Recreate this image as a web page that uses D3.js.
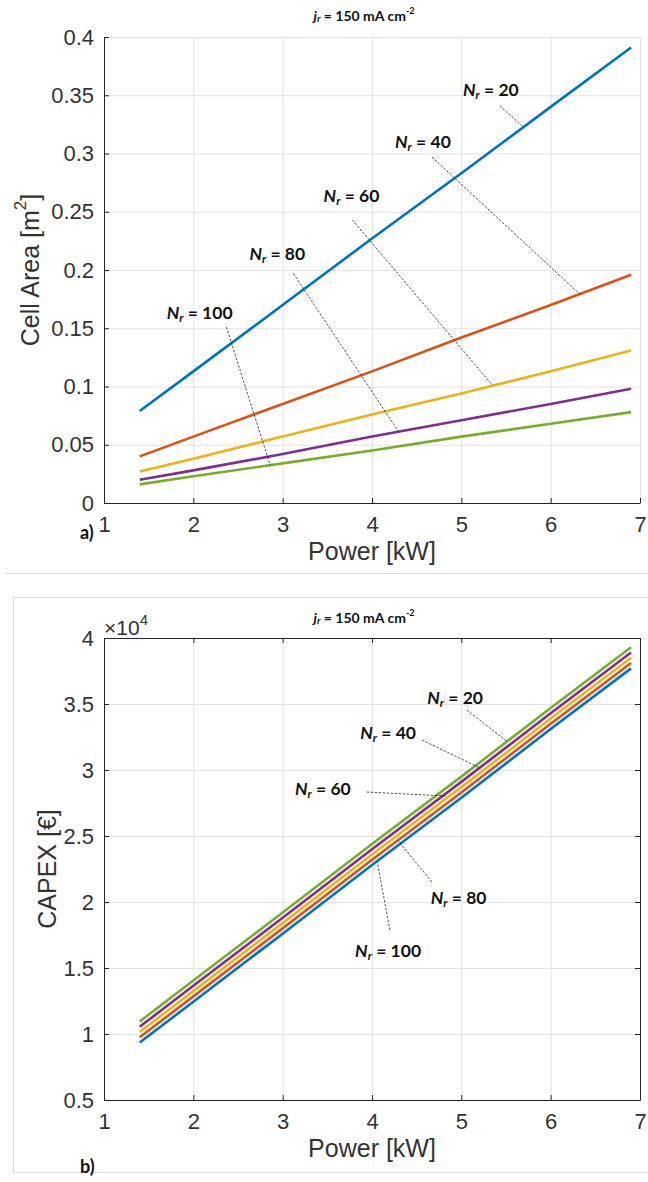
<!DOCTYPE html>
<html>
<head>
<meta charset="utf-8">
<script src="https://cdn.jsdelivr.net/npm/d3@7"></script>
<style>
  html, body { margin: 0; padding: 0; background: #fff; }
  svg { display: block; }
</style>
</head>
<body>
<script>
// ---------------- DATA ----------------
const power = [1.4, 2, 3, 4, 5, 6, 6.9];

// Panel a) Cell area [m^2]
const areaBlue   = [0.079, 0.113, 0.170, 0.227, 0.283, 0.340, 0.391];
const areaOrange = [0.040, 0.057, 0.085, 0.113, 0.142, 0.170, 0.196];
const areaYellow = [0.027, 0.038, 0.057, 0.076, 0.094, 0.113, 0.131];
const areaPurple = [0.020, 0.028, 0.042, 0.057, 0.071, 0.085, 0.098];
const areaGreen  = [0.016, 0.023, 0.034, 0.045, 0.057, 0.068, 0.078];

// Panel b) CAPEX [€] in units of 10^4
const capexBlue   = [0.935, 1.245, 1.76, 2.28, 2.79, 3.31, 3.77];
const capexOrange = [0.975, 1.285, 1.80, 2.32, 2.83, 3.35, 3.81];
const capexYellow = [1.015, 1.325, 1.84, 2.36, 2.87, 3.39, 3.85];
const capexPurple = [1.055, 1.365, 1.88, 2.40, 2.91, 3.43, 3.89];
const capexGreen  = [1.095, 1.405, 1.92, 2.44, 2.95, 3.47, 3.93];

const xTicks = [1, 2, 3, 4, 5, 6, 7];
const areaTicks = [0, 0.05, 0.1, 0.15, 0.2, 0.25, 0.3, 0.35, 0.4];
const areaTickLabels = ["0", "0.05", "0.1", "0.15", "0.2", "0.25", "0.3", "0.35", "0.4"];
const capexTicks = [0.5, 1, 1.5, 2, 2.5, 3, 3.5, 4];
const capexTickLabels = ["0.5", "1", "1.5", "2", "2.5", "3", "3.5", "4"];

const nrLabels = ["20", "40", "60", "80", "100"];
// annotation: [text power, text value, leader start power, value, leader end power, value]
const areaNotes = [
  [5.33, 0.355, 5.43, 0.341, 5.69, 0.323],
  [4.57, 0.311, 4.67, 0.297, 6.33, 0.179],
  [3.77, 0.264, 3.78, 0.243, 5.35, 0.101],
  [2.94, 0.215, 3.12, 0.197, 4.30, 0.061],
  [2.07, 0.164, 2.37, 0.151, 2.86, 0.0325]
];
const capexNotes = [
  [4.93, 3.553, 5.06, 3.455, 5.52, 3.212],
  [4.18, 3.288, 4.56, 3.227, 5.21, 3.015],
  [3.45, 2.864, 3.94, 2.833, 4.84, 2.803],
  [4.97, 2.038, 4.67, 2.152, 4.29, 2.466],
  [4.18, 1.636, 4.20, 1.788, 4.06, 2.300]
];

const colors = { blue: "#0072BD", orange: "#D95319", yellow: "#EDB120", purple: "#7E2F8E", green: "#77AC30" };

// ---------------- DRAW ----------------
const W = 648, H = 1182;
const svg = d3.select("body").append("svg").attr("width", W).attr("height", H);

const AXC = "#262626", GRIDC = "#e3e3e3";
const TICKFONT = '"Liberation Sans", Arial, sans-serif';
const NOTEFONT = 'Lato, "Open Sans", sans-serif';

// panel frames
svg.append("line").attr("x1", 5).attr("x2", W).attr("y1", 573.5).attr("y2", 573.5)
  .attr("stroke", "#dcdcdc").attr("stroke-width", 1);
svg.append("path").attr("d", `M${W},597.5 H13.5 V1172.5 H${W}`)
  .attr("fill", "none").attr("stroke", "#dcdcdc").attr("stroke-width", 1);

function panel(opts) {
  const { top, bottom, yDomain, yTicks, yLabels, series, notes, box, titleY } = opts;
  const left = 104, right = 640;
  const x = d3.scaleLinear().domain([1, 7]).range([left, right]);
  const y = d3.scaleLinear().domain(yDomain).range([bottom, top]);
  const g = svg.append("g");

  // grid
  g.append("g").attr("transform", `translate(0,${bottom})`)
    .call(d3.axisBottom(x).tickValues(xTicks).tickSize(-(bottom - top)).tickFormat(""))
    .call(s => { s.select(".domain").remove(); s.selectAll("line").attr("stroke", GRIDC); });
  g.append("g").attr("transform", `translate(${left},0)`)
    .call(d3.axisLeft(y).tickValues(yTicks).tickSize(-(right - left)).tickFormat(""))
    .call(s => { s.select(".domain").remove(); s.selectAll("line").attr("stroke", GRIDC); });

  // series
  const line = d3.line().x((d, i) => x(power[i])).y(d => y(d));
  series.forEach(sr => {
    g.append("path").datum(sr.values).attr("d", line)
      .attr("fill", "none").attr("stroke", sr.color).attr("stroke-width", 2.6);
  });

  // axes
  const xa = g.append("g").attr("transform", `translate(0,${bottom})`)
    .call(d3.axisBottom(x).tickValues(xTicks).tickSize(-5).tickSizeOuter(0).tickPadding(8).tickFormat(d3.format("d")));
  const ya = g.append("g").attr("transform", `translate(${left},0)`)
    .call(d3.axisLeft(y).tickValues(yTicks).tickSize(-5).tickSizeOuter(0).tickPadding(10).tickFormat((d, i) => yLabels[i]));
  [xa, ya].forEach(a => {
    a.select(".domain").attr("stroke", AXC).attr("stroke-width", 1);
    a.selectAll(".tick line").attr("stroke", AXC);
    a.selectAll(".tick text").attr("fill", "#333").attr("font-size", 22).attr("font-family", TICKFONT);
  });
  xa.selectAll(".tick text").attr("dy", "0.95em");
  if (box) {
    g.append("g").attr("transform", `translate(0,${top})`)
      .call(d3.axisTop(x).tickValues(xTicks).tickSize(-5).tickSizeOuter(0).tickFormat(""))
      .call(s => { s.select(".domain").attr("stroke", AXC); s.selectAll("line").attr("stroke", AXC); });
    g.append("g").attr("transform", `translate(${right},0)`)
      .call(d3.axisRight(y).tickValues(yTicks).tickSize(-5).tickSizeOuter(0).tickFormat(""))
      .call(s => { s.select(".domain").attr("stroke", AXC); s.selectAll("line").attr("stroke", AXC); });
  }

  // annotations
  notes.forEach((n, i) => {
    g.append("line")
      .attr("x1", x(n[2])).attr("y1", y(n[3])).attr("x2", x(n[4])).attr("y2", y(n[5]))
      .attr("stroke", "#111").attr("stroke-width", 0.7).attr("stroke-dasharray", "2.5,1.5");
    const t = g.append("text").attr("x", x(n[0])).attr("y", y(n[1]))
      .attr("text-anchor", "middle").attr("dominant-baseline", "central")
      .attr("font-family", NOTEFONT).attr("font-weight", "bold").attr("font-size", 17.5).attr("fill", "#111");
    t.append("tspan").attr("font-style", "italic").text("N");
    t.append("tspan").attr("font-style", "italic").attr("font-size", 12).attr("dy", 5).text("r");
    t.append("tspan").attr("dy", -5).text(" = " + nrLabels[i]);
  });

  // x label
  g.append("text").attr("x", (left + right) / 2).attr("y", bottom + 48)
    .attr("text-anchor", "middle").attr("dominant-baseline", "central")
    .attr("font-family", TICKFONT).attr("font-size", 25).attr("fill", "#333").text("Power [kW]");

  // title
  const tt = g.append("text").attr("x", 364).attr("y", titleY)
    .attr("text-anchor", "middle").attr("dominant-baseline", "central")
    .attr("font-family", NOTEFONT).attr("font-weight", "bold").attr("font-size", 14).attr("fill", "#111");
  tt.append("tspan").attr("font-style", "italic").text("j");
  tt.append("tspan").attr("font-style", "italic").attr("font-size", 10).attr("dy", 3).text("r");
  tt.append("tspan").attr("dy", -3).text(" = 150 mA cm");
  tt.append("tspan").attr("font-size", 9).attr("dy", -5).text("-2");
  return { x, y, g };
}

// panel a
const pa = panel({
  top: 37, bottom: 503, yDomain: [0, 0.4], yTicks: areaTicks, yLabels: areaTickLabels, box: false, titleY: 15,
  series: [
    { values: areaBlue, color: colors.blue },
    { values: areaOrange, color: colors.orange },
    { values: areaYellow, color: colors.yellow },
    { values: areaPurple, color: colors.purple },
    { values: areaGreen, color: colors.green }
  ],
  notes: areaNotes
});
const la = pa.g.append("text").attr("transform", `translate(30,${(37 + 503) / 2}) rotate(-90)`)
  .attr("text-anchor", "middle").attr("dominant-baseline", "central")
  .attr("font-family", TICKFONT).attr("font-size", 25).attr("fill", "#333");
la.append("tspan").text("Cell Area [m");
la.append("tspan").attr("font-size", 17).attr("dy", -10).text("2");
la.append("tspan").attr("dy", 10).text("]");
pa.g.append("text").attr("x", 80).attr("y", 532).attr("dominant-baseline", "central")
  .attr("font-family", NOTEFONT).attr("font-weight", "bold").attr("font-size", 18).attr("fill", "#111").text("a)");

// panel b
const pb = panel({
  top: 638, bottom: 1100, yDomain: [0.5, 4], yTicks: capexTicks, yLabels: capexTickLabels, box: true, titleY: 617,
  series: [
    { values: capexBlue, color: colors.blue },
    { values: capexOrange, color: colors.orange },
    { values: capexYellow, color: colors.yellow },
    { values: capexPurple, color: colors.purple },
    { values: capexGreen, color: colors.green }
  ],
  notes: capexNotes
});
pb.g.append("text").attr("transform", `translate(47,${(638 + 1100) / 2}) rotate(-90)`)
  .attr("text-anchor", "middle").attr("dominant-baseline", "central")
  .attr("font-family", TICKFONT).attr("font-size", 25).attr("fill", "#333").text("CAPEX [€]");
const ex = pb.g.append("text").attr("x", 104).attr("y", 635)
  .attr("font-family", TICKFONT).attr("font-size", 21).attr("fill", "#333");
ex.append("tspan").text("×10");
ex.append("tspan").attr("font-size", 15).attr("dy", -10).text("4");
pb.g.append("text").attr("x", 80).attr("y", 1166).attr("dominant-baseline", "central")
  .attr("font-family", NOTEFONT).attr("font-weight", "bold").attr("font-size", 18).attr("fill", "#111").text("b)");
</script>
</body>
</html>
